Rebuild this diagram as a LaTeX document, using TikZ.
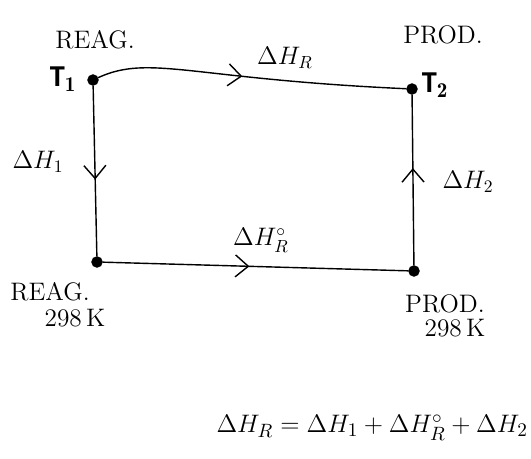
\documentclass[tikz,border=0pt]{standalone}
\usepackage{amsmath}
\usepackage{fontspec}
\newfontfamily\tlabelfont{Carlito}
\usepackage{tikz}
\usetikzlibrary{arrows.meta,decorations.markings}

\tikzset{
  midarrow/.style={postaction={decorate},
    decoration={markings,mark=at position #1 with {\arrow{Straight Barb[length=2.6mm,width=4.4mm]}}}},
  dot/.style={circle,draw,thick,fill=black,inner sep=0pt,minimum size=2mm},
  hand/.style={font=\Large},
  tlabel/.style={font=\tlabelfont\bfseries\LARGE}
}

\begin{document}
\begin{tikzpicture}[scale=1]
\useasboundingbox (0,0) rectangle (10.62,9.18);

\node[dot] (A) at (1.86,7.58) {};
\node[dot] (B) at (8.24,7.40) {};
\node[dot] (C) at (1.94,3.94) {};
\node[dot] (D) at (8.28,3.76) {};

\draw[thick,midarrow=0.47] (A) .. controls (3.0,8.1) and (3.8,7.6) .. (B);
\draw[thick,midarrow=0.55] (A) -- (C);
\draw[thick,midarrow=0.48] (C) -- (D);
\draw[thick,midarrow=0.57] (D) -- (B);

\node[tlabel] (t1) at (1.26,7.60) {T$_{\mathbf 1}$};
\node[tlabel] (t2) at (8.70,7.48) {T$_{\mathbf 2}$};

\node[hand] (reag) at (1.90,8.38) {REAG.};
\node[hand] (prod) at (8.86,8.48) {PROD.};
\node[hand] (reagb) at (1.00,3.34) {REAG.};
\node[hand] (tempa) at (1.50,2.82) {298\,K};
\node[hand] (prodb) at (8.90,3.10) {PROD.};
\node[hand] (tempb) at (9.10,2.62) {298\,K};

\node[font=\Large] (hr) at (5.70,8.02) {$\Delta H_R$};
\node[font=\Large] (h1) at (0.76,5.94) {$\Delta H_1$};
\node[font=\Large] (h2) at (9.36,5.54) {$\Delta H_2$};
\node[font=\Large] (hr0) at (5.22,4.38) {$\Delta H_R^\circ$};

\node[font=\fontsize{15.5}{18}\selectfont,anchor=east,inner sep=1pt] (eq) at (10.60,0.62)
  {$\Delta H_R = \Delta H_1 + \Delta H_R^\circ + \Delta H_2$};

\end{tikzpicture}
\end{document}
